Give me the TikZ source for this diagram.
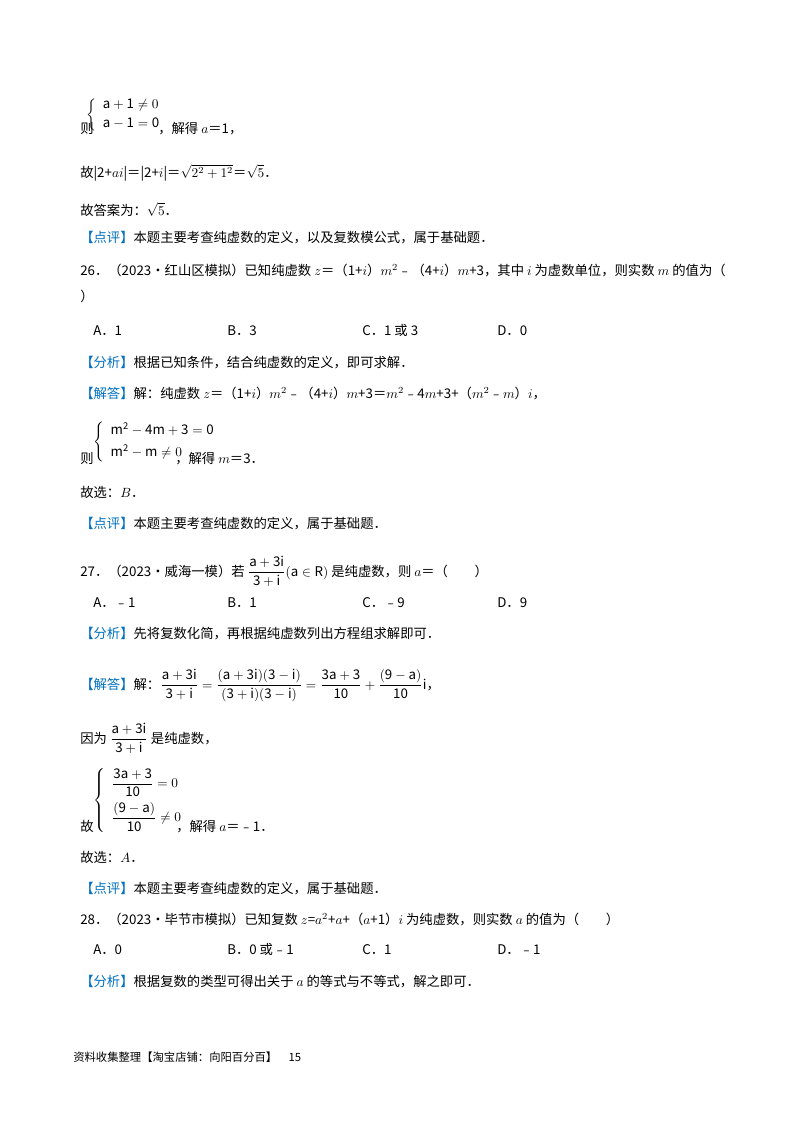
\documentclass[tikz,border=0pt]{standalone}
\usepackage{amsmath}
\usepackage{fontspec}
\setmainfont{Noto Sans CJK SC}
\definecolor{hl}{RGB}{0,112,192}
\begin{document}
\begin{tikzpicture}[x=0.75pt,y=-0.75pt,
  t/.style={anchor=base west,inner sep=0pt,font=\fontsize{10}{12}\selectfont},
  sys/.style={anchor=west,inner sep=0pt,font=\fontsize{10}{12}\selectfont}]
\useasboundingbox (0,0) rectangle (800,1132);
\newcommand{\tg}[1]{\textcolor{hl}{【#1】}}
% top
\node[sys] (s1) at (86,115) {$\left\{\begin{array}{l}\mathrm{a+1}\neq 0\\[2pt] \mathrm{a-1=0}\end{array}\right.$};
\node[t] (l1) at (80,133) {则};
\node[t] (l1b) at (158,133) {，解得 $a$＝1，};
\node[t] (l2) at (80,177) {故|2+$ai$|＝|2+$i$|＝$\sqrt{2^2+1^2}$＝$\sqrt{5}$．};
\node[t] (l3) at (80,215) {故答案为：$\sqrt{5}$．};
\node[t] (l4) at (80,242) {\tg{点评}本题主要考查纯虚数的定义，以及复数模公式，属于基础题．};
% 26
\node[t] (q26) at (80,275) {26．（2023•红山区模拟）已知纯虚数 $z$＝（1+$i$）$m^2$﹣（4+$i$）$m$+3，其中 $i$ 为虚数单位，则实数 $m$ 的值为（};
\node[t] (q26b) at (80,301) {）};
\node[t] (a26) at (93,335) {A．1};
\node[t] (b26) at (227,335) {B．3};
\node[t] (c26) at (362,335) {C．1 或 3};
\node[t] (d26) at (497,335) {D．0};
\node[t] (f26) at (80,367) {\tg{分析}根据已知条件，结合纯虚数的定义，即可求解．};
\node[t] (j26) at (80,398) {\tg{解答}解：纯虚数 $z$＝（1+$i$）$m^2$﹣（4+$i$）$m$+3＝$m^2$﹣4$m$+3+（$m^2$﹣$m$）$i$，};
\node[sys] (s2) at (93,442) {$\left\{\begin{array}{l}\mathrm{m^2-4m+3=0}\\[4pt] \mathrm{m^2-m}\neq 0\end{array}\right.$};
\node[t] (l26) at (80,463) {则};
\node[t] (l26b) at (175,463) {，解得 $m$＝3．};
\node[t] (x26) at (80,497) {故选：$B$．};
\node[t] (p26) at (80,528) {\tg{点评}本题主要考查纯虚数的定义，属于基础题．};
% 27
\node[t] (q27) at (80,576) {27．（2023•威海一模）若 $\dfrac{\mathrm{a+3i}}{\mathrm{3+i}}(\mathrm{a}\in\mathrm{R})$ 是纯虚数，则 $a$＝（　　）};
\node[t] (a27) at (93,607) {A．﹣1};
\node[t] (b27) at (227,607) {B．1};
\node[t] (c27) at (362,607) {C．﹣9};
\node[t] (d27) at (497,607) {D．9};
\node[t] (f27) at (80,638) {\tg{分析}先将复数化简，再根据纯虚数列出方程组求解即可．};
\node[t] (j27) at (80,689) {\tg{解答}解：$\dfrac{\mathrm{a+3i}}{\mathrm{3+i}}=\dfrac{\mathrm{(a+3i)(3-i)}}{\mathrm{(3+i)(3-i)}}=\dfrac{\mathrm{3a+3}}{\mathrm{10}}+\dfrac{\mathrm{(9-a)}}{\mathrm{10}}\mathrm{i}$，};
\node[t] (y27) at (80,743) {因为 $\dfrac{\mathrm{a+3i}}{\mathrm{3+i}}$ 是纯虚数，};
\node[sys] (s3) at (93,800) {$\left\{\begin{array}{l}\dfrac{\mathrm{3a+3}}{\mathrm{10}}=0\\[8pt] \dfrac{\mathrm{(9-a)}}{\mathrm{10}}\neq 0\end{array}\right.$};
\node[t] (l27) at (80,831) {故};
\node[t] (l27b) at (176,831) {，解得 $a$＝﹣1．};
\node[t] (x27) at (80,862) {故选：$A$．};
\node[t] (p27) at (80,893) {\tg{点评}本题主要考查纯虚数的定义，属于基础题．};
% 28
\node[t] (q28) at (80,924) {28．（2023•毕节市模拟）已知复数 $z$=$a^2$+$a$+（$a$+1）$i$ 为纯虚数，则实数 $a$ 的值为（　　）};
\node[t] (a28) at (93,954) {A．0};
\node[t] (b28) at (227,954) {B．0 或﹣1};
\node[t] (c28) at (362,954) {C．1};
\node[t] (d28) at (497,954) {D．﹣1};
\node[t] (f28) at (80,986) {\tg{分析}根据复数的类型可得出关于 $a$ 的等式与不等式，解之即可．};
\node[t,font=\fontsize{8.5}{10}\selectfont] (foot) at (73,1061) {资料收集整理【淘宝店铺：向阳百分百】\quad 15};
\end{tikzpicture}
\end{document}
